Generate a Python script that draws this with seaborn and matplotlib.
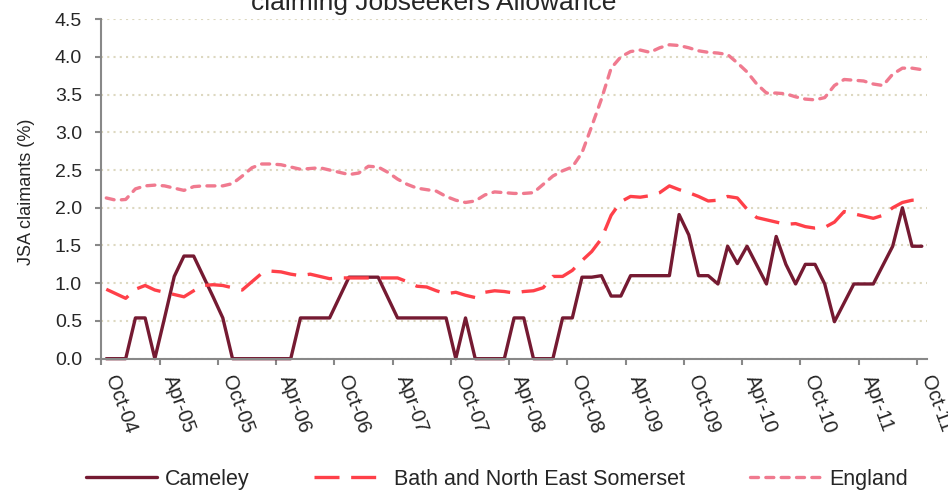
import numpy as np
import pandas as pd
import seaborn as sns
from matplotlib import pyplot as plt

# monthly figures, Oct-04 .. Oct-11 (85 months)
cameley = [0, 0, 0, 0.54, 0.54, 0, 0.54, 1.09, 1.36, 1.36,
           1.09, 0.82, 0.54, 0, 0, 0, 0, 0, 0, 0,
           0.54, 0.54, 0.54, 0.54, 0.81, 1.08, 1.08, 1.08, 1.08, 0.81,
           0.54, 0.54, 0.54, 0.54, 0.54, 0.54, 0, 0.54, 0, 0,
           0, 0, 0.54, 0.54, 0, 0, 0, 0.54, 0.54, 1.08,
           1.08, 1.10, 0.83, 0.83, 1.10, 1.10, 1.10, 1.10, 1.10, 1.91,
           1.64, 1.10, 1.10, 0.99, 1.49, 1.26, 1.49, 1.24, 0.99, 1.62,
           1.25, 0.99, 1.25, 1.25, 0.99, 0.49, 0.74, 0.99, 0.99, 0.99,
           1.24, 1.49, 2.00, 1.49, 1.49]

banes = [0.92, 0.86, 0.80, 0.92, 0.97, 0.91, 0.88, 0.85, 0.82, 0.90,
         0.97, 0.98, 0.97, 0.94, 0.91, 1.02, 1.13, 1.16, 1.15, 1.12,
         1.10, 1.12, 1.09, 1.06, 1.07, 1.07, 1.07, 1.07, 1.07, 1.07,
         1.07, 1.02, 0.96, 0.95, 0.90, 0.86, 0.88, 0.84, 0.81, 0.88,
         0.90, 0.89, 0.87, 0.89, 0.90, 0.94, 1.09, 1.09, 1.17, 1.30,
         1.42, 1.59, 1.90, 2.08, 2.15, 2.14, 2.16, 2.20, 2.29, 2.24,
         2.20, 2.15, 2.09, 2.10, 2.15, 2.13, 1.98, 1.87, 1.84, 1.81,
         1.78, 1.79, 1.75, 1.73, 1.74, 1.81, 1.95, 1.92, 1.89, 1.86,
         1.90, 2.00, 2.07, 2.10, 2.10]

england = [2.13, 2.10, 2.11, 2.25, 2.29, 2.30, 2.29, 2.26, 2.23, 2.28,
           2.29, 2.29, 2.29, 2.32, 2.42, 2.53, 2.58, 2.58, 2.57, 2.54,
           2.51, 2.52, 2.53, 2.50, 2.47, 2.44, 2.46, 2.55, 2.54, 2.47,
           2.38, 2.31, 2.26, 2.24, 2.22, 2.15, 2.10, 2.07, 2.09, 2.17,
           2.21, 2.20, 2.19, 2.19, 2.20, 2.31, 2.42, 2.49, 2.54, 2.73,
           3.08, 3.44, 3.85, 4.00, 4.07, 4.09, 4.06, 4.12, 4.16, 4.15,
           4.12, 4.08, 4.06, 4.05, 4.03, 3.92, 3.80, 3.64, 3.52, 3.52,
           3.51, 3.47, 3.44, 3.43, 3.46, 3.62, 3.70, 3.69, 3.68, 3.64,
           3.62, 3.77, 3.85, 3.85, 3.83]

tick_labels = ['Oct-04', 'Apr-05', 'Oct-05', 'Apr-06', 'Oct-06', 'Apr-07', 'Oct-07',
               'Apr-08', 'Oct-08', 'Apr-09', 'Oct-09', 'Apr-10', 'Oct-10', 'Apr-11', 'Oct-11']

df = pd.DataFrame({'month': np.arange(len(cameley)),
                   'Cameley': cameley,
                   'Bath and North East Somerset': banes,
                   'England': england})

sns.set_style('white')
plt.rcParams['font.family'] = ['Liberation Sans', 'DejaVu Sans']

fig = plt.figure(figsize=(9.48, 4.9), dpi=100)
ax = fig.add_axes([0.107, 0.268, 0.8705, 0.693])

sns.lineplot(data=df, x='month', y='Cameley', ax=ax, color='#751A32', lw=2.4,
             label='Cameley', clip_on=False)
sns.lineplot(data=df, x='month', y='Bath and North East Somerset', ax=ax, color='#FF4049',
             lw=2.4, label='Bath and North East Somerset')
sns.lineplot(data=df, x='month', y='England', ax=ax, color='#F07A8F', lw=2.4,
             label='England')

lines = ax.get_lines()
lines[1].set_dashes((7.5, 3.5))
lines[2].set_dashes((2.4, 2.2))
lines[2].set_dash_capstyle('round')

ax.set_xlim(-0.5, len(cameley) - 0.5)
ax.set_ylim(0, 4.5)
ax.set_yticks(np.arange(0, 4.51, 0.5))
ax.set_yticklabels(['%.1f' % v for v in np.arange(0, 4.51, 0.5)])
ax.set_xticks(np.arange(-0.5, len(cameley), 6))
ax.set_xticklabels(tick_labels, rotation=-70, ha='left')

ax.grid(axis='y', color='#DDD8C0', linestyle=(0, (1, 2)), lw=1.5)
ax.grid(axis='x', visible=False)
for s in ['top', 'right']:
    ax.spines[s].set_visible(False)
for s in ['left', 'bottom']:
    ax.spines[s].set_color('#888888')
    ax.spines[s].set_linewidth(1.5)
ax.tick_params(axis='both', which='both', direction='out', length=4, width=1.5,
               color='#888888', left=True, bottom=True)
ax.tick_params(axis='y', pad=10, labelsize=14)
ax.tick_params(axis='x', pad=6, labelsize=14.5)

ax.set_xlabel('')
ax.set_ylabel('JSA claimants (%)', fontsize=13)
ax.yaxis.set_label_coords(-0.081, 0.49)

ax.get_legend().remove()
fig.legend(handles=lines, labels=['Cameley', 'Bath and North East Somerset', 'England'],
           loc='center', bbox_to_anchor=(0.524, 0.022), ncol=3, frameon=False,
           fontsize=15.5, handlelength=3.3, handletextpad=0.4, columnspacing=3.0,
           borderpad=0)

fig.text(0.458, 0.98, 'claiming Jobseekers Allowance', ha='center', va='baseline',
         fontsize=19)

fig.savefig('out.png', dpi=100)
